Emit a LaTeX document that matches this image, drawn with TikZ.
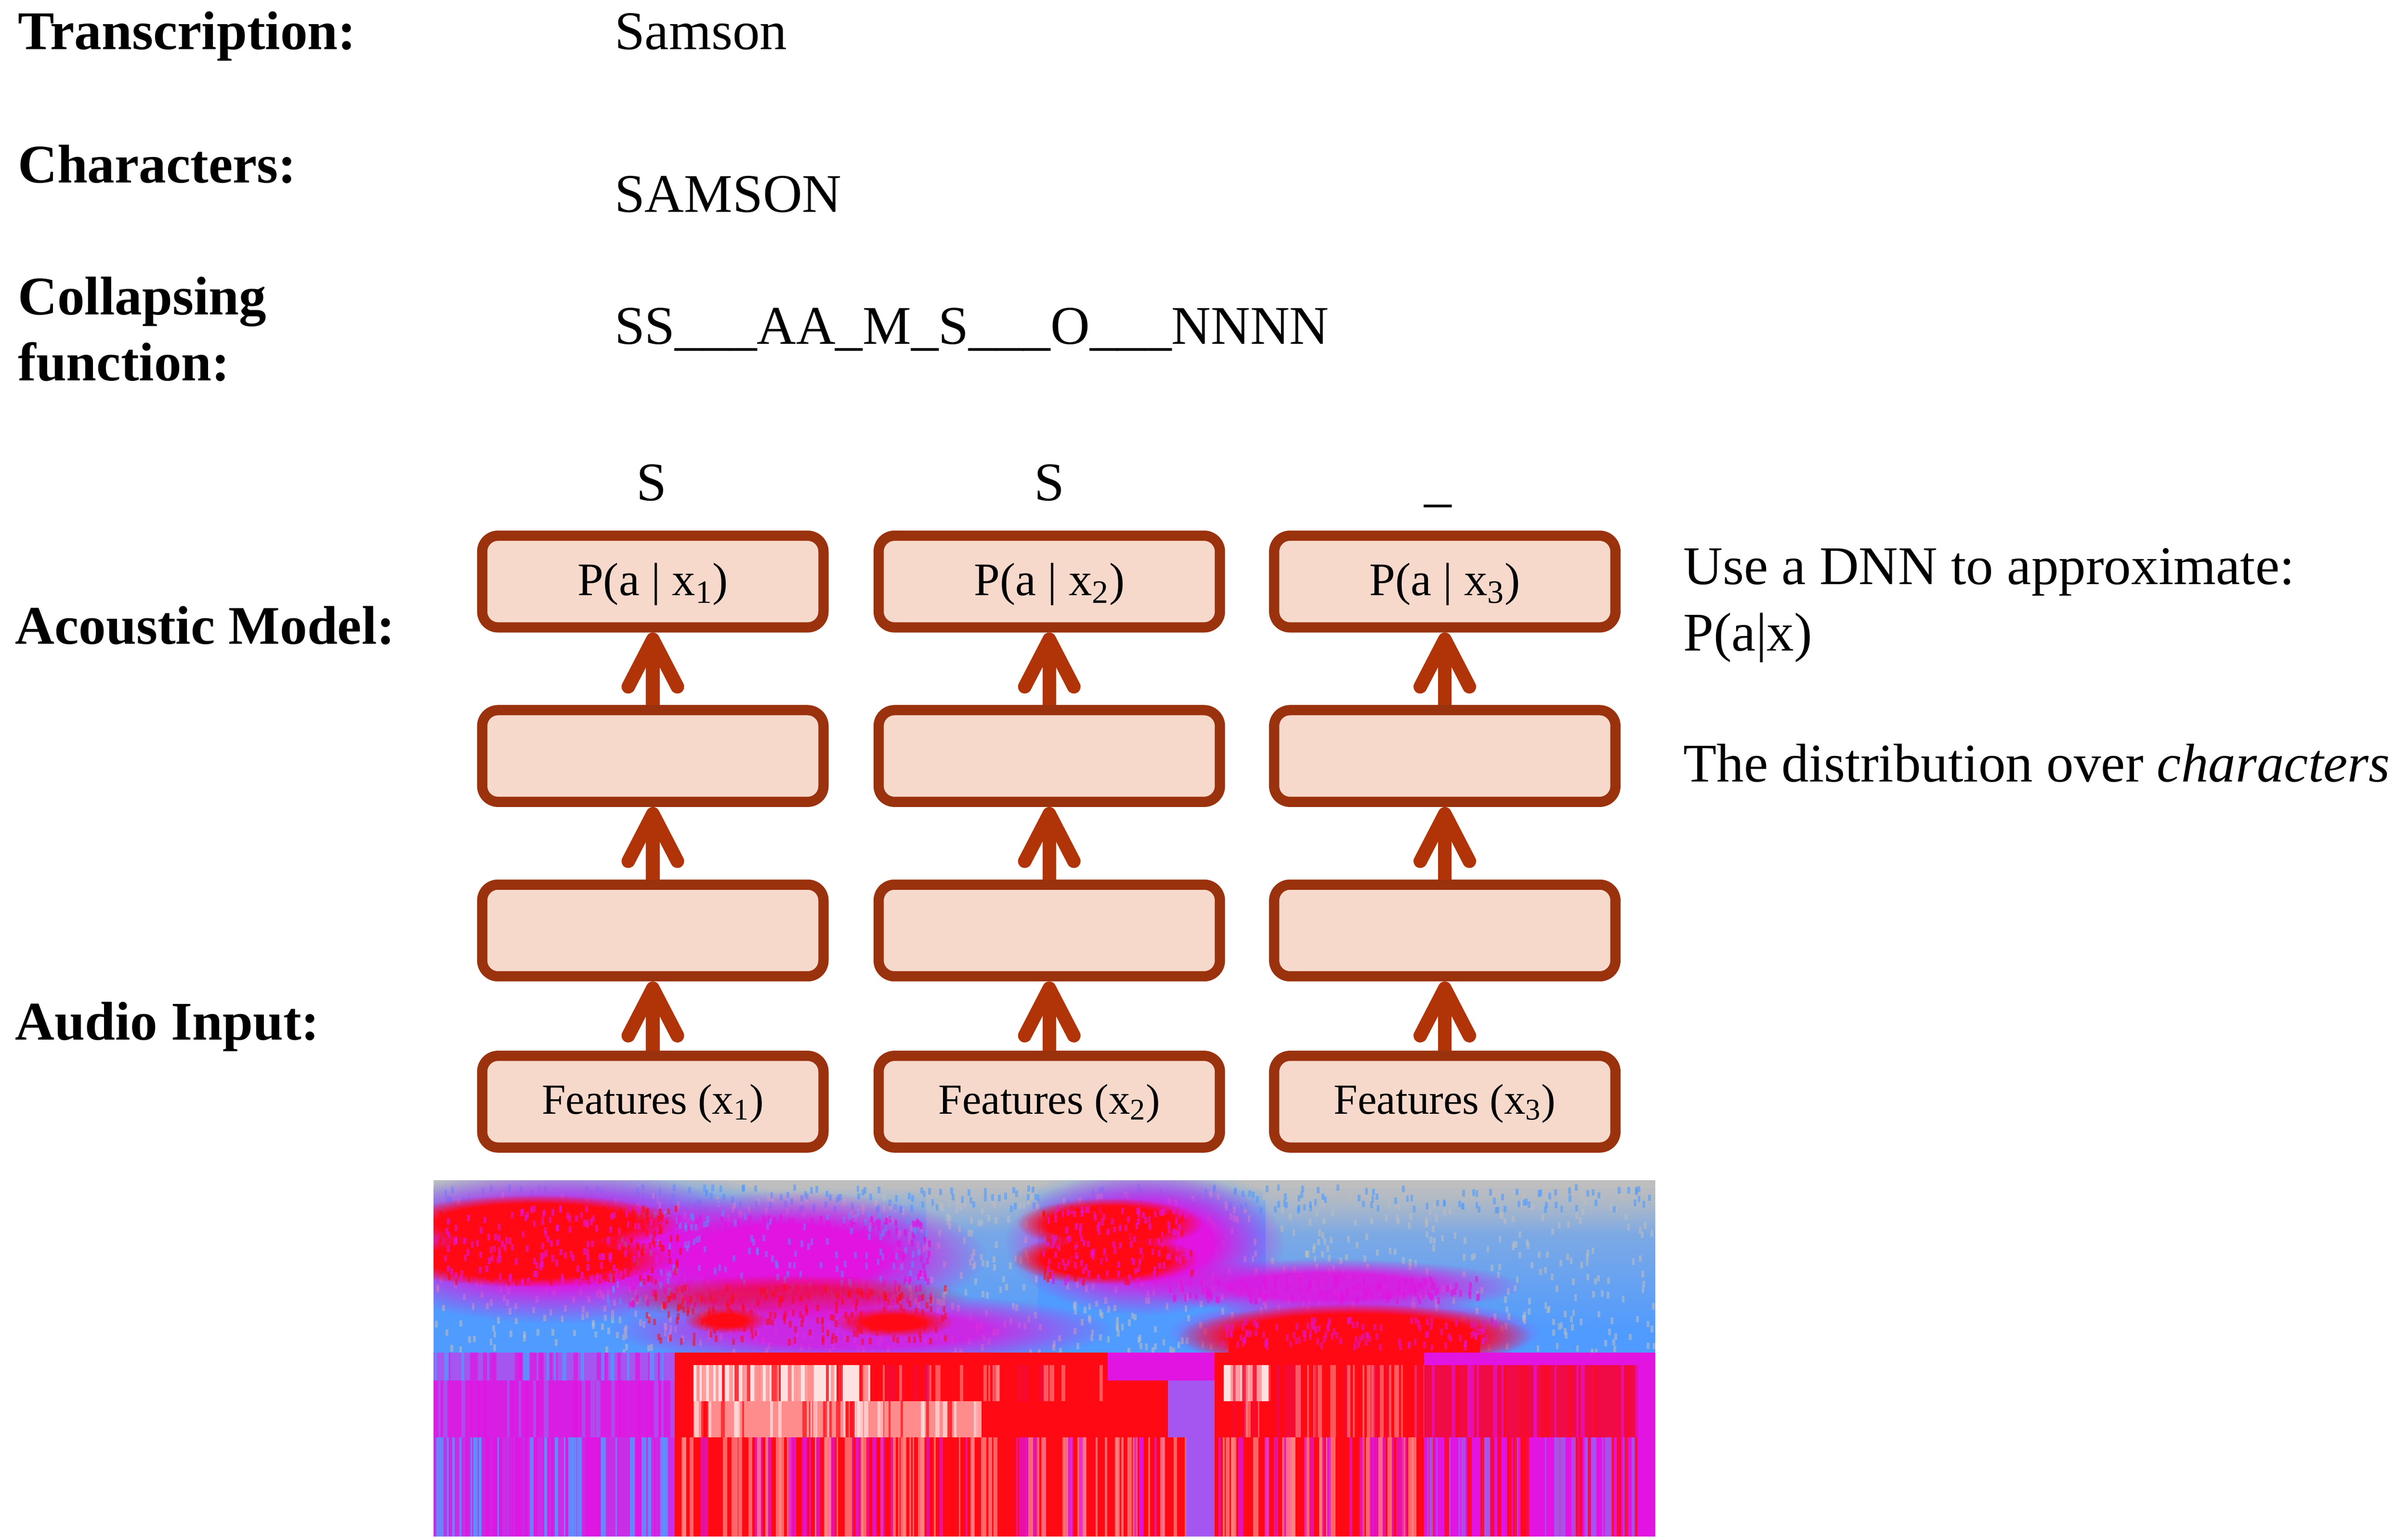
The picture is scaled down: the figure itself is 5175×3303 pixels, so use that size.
\documentclass[tikz,border=0pt]{standalone}
\usepackage{fontspec}
\setmainfont{Liberation Serif}
\usetikzlibrary{arrows.meta,fadings}
\definecolor{boxfill}{RGB}{247,217,204}
\definecolor{boxline}{RGB}{154,50,14}
\definecolor{arrowc}{RGB}{176,52,8}
\definecolor{sgray}{RGB}{190,190,190}
\definecolor{sblue}{RGB}{80,155,255}
\definecolor{smag}{RGB}{225,20,225}
\definecolor{spurp}{RGB}{165,85,240}
\definecolor{sred}{RGB}{255,10,20}
\definecolor{spink}{RGB}{255,140,140}
\definecolor{swhite}{RGB}{255,225,225}
\definecolor{scrim}{RGB}{240,10,70}
\pgfdeclareradialshading{blobsh}{\pgfpointorigin}{color(0pt)=(pgftransparent!0); color(12bp)=(pgftransparent!0); color(25bp)=(pgftransparent!100); color(50bp)=(pgftransparent!100)}
\pgfdeclarefading{softblob}{\pgfuseshading{blobsh}}
\pgfdeclareradialshading{coresh}{\pgfpointorigin}{color(0pt)=(pgftransparent!0); color(17bp)=(pgftransparent!0); color(25bp)=(pgftransparent!100); color(50bp)=(pgftransparent!100)}
\pgfdeclarefading{coreblob}{\pgfuseshading{coresh}}
\tikzfading[name=fadedown, top color=transparent!0, bottom color=transparent!100]
\newcommand{\bigfont}{\fontsize{33.3}{40}\selectfont}
\newcommand{\pfont}{\fontsize{28.5}{34}\selectfont}
\newcommand{\ffont}{\fontsize{26.2}{31}\selectfont}
\newcommand\sstripes[8]{%
  \foreach \i in {1,...,#5}{%
    \pgfmathsetmacro\spx{#1+#2*rnd}%
    \pgfmathsetmacro\spw{3+8*rnd}%
    \pgfmathsetmacro\spc{rnd}%
    \ifdim\spc pt<0.5pt \def\scol{#6}\else\def\scol{#7}\fi
    \fill[\scol, opacity=#8] (\spx,#3) rectangle ++(\spw,#4);
  }%
}
\newcommand\specks[7]{%
  \foreach \i in {1,...,#5}{%
    \pgfmathsetmacro\spx{#1+#2*rnd}%
    \pgfmathsetmacro\spy{#3+#4*rnd}%
    \fill[#6, opacity=#7] (\spx,\spy) rectangle ++(6,14);
  }%
}
\tikzset{
  lbl/.style={anchor=base west, inner sep=0pt, font=\bigfont\bfseries},
  txt/.style={anchor=base west, inner sep=0pt, font=\bigfont},
  outlbl/.style={anchor=base, inner sep=0pt, font=\bigfont},
  nnbox/.style={draw=boxline, fill=boxfill, line width=0.22cm, rounded corners=0.34cm, minimum width=7.33cm, minimum height=1.97cm, inner sep=0pt},
  pbox/.style={nnbox, font=\pfont, text height=0.80cm, text depth=0.20cm},
  fbox/.style={nnbox, font=\ffont, text height=0.72cm, text depth=0.20cm},
  uparrow/.style={draw=arrowc, line width=8.3pt, -{Straight Barb[length=29pt, width=30pt, round]}},
}
\begin{document}
\begin{tikzpicture}[x=0.01cm, y=-0.01cm]
\useasboundingbox (0,0) rectangle (5175,3303);
% left labels
\node[lbl] (ltrans) at (38,106) {Transcription:};
\node[lbl] (lchar) at (38,393) {Characters:};
\node[lbl] (lcoll1) at (38,676) {Collapsing};
\node[lbl] (lcoll2) at (38,818) {function:};
\node[lbl] (lam) at (32,1384) {Acoustic Model:};
\node[lbl] (lai) at (32,2235) {Audio Input:};
\node[txt] (vtrans) at (1320,106) {Samson};
\node[txt] (vchar) at (1320,456) {SAMSON};
\node[txt] (vcoll) at (1320,740) {SS\_\_\_AA\_M\_S\_\_\_O\_\_\_NNNN};
% right text
\node[txt] (r1) at (3617,1256) {Use a DNN to approximate:};
\node[txt] (r2) at (3617,1399) {P(a|x)};
\node[txt] (r3) at (3617,1680) {The distribution over \textit{characters}};
% outputs
\node[outlbl] (o1) at (1400,1076) {S};
\node[outlbl] (o2) at (2255,1076) {S};
\node[outlbl] (o3) at (3090,1076) {\_};
% network
\foreach \c/\x in {1/1403, 2/2255, 3/3105}{
  \node[fbox] (f\c) at (\x,2368) {Features (x\textsubscript{\c})};
  \node[nnbox] (h\c) at (\x,2000) {};
  \node[nnbox] (g\c) at (\x,1625) {};
  \node[pbox] (p\c) at (\x,1250) {P(a | x\textsubscript{\c})};
  \draw[uparrow] (f\c.north) -- (h\c.south);
  \draw[uparrow] (h\c.north) -- (g\c.south);
  \draw[uparrow] (g\c.north) -- (p\c.south);
}
% spectrogram
\begin{scope}
\clip (932,2537) rectangle (3557,3303);
\pgfmathsetseed{7}
\fill[sgray] (932,2537) rectangle (3557,3303);
\shade[top color=sgray, bottom color=sblue] (932,2550) rectangle (3557,2650);
\fill[sblue] (932,2650) rectangle (3557,2910);
\fill[sblue, path fading=softblob] (1250,2640) ellipse [x radius=520, y radius=130];
\fill[sblue, path fading=softblob] (2460,2640) ellipse [x radius=330, y radius=130];
\fill[sgray, opacity=0.6, path fading=fadedown] (2720,2560) rectangle (3557,2860);
\fill[sgray, opacity=0.5, path fading=fadedown] (1990,2560) rectangle (2230,2880);
\specks{932}{2625}{2560}{340}{1000}{sgray}{0.55}
\specks{932}{2625}{2545}{50}{250}{sblue}{0.6}
% word 1: magenta envelope, red cores
\fill[smag, path fading=softblob] (1200,2680) ellipse [x radius=470, y radius=165];
\fill[smag, path fading=softblob] (1690,2700) ellipse [x radius=430, y radius=140];
\specks{1350}{650}{2610}{190}{400}{smag}{0.7}
\specks{1300}{700}{2600}{210}{170}{sblue}{0.45}
\fill[sred, path fading=coreblob] (1150,2628) ellipse [x radius=310, y radius=60];
\fill[sred, path fading=coreblob] (1130,2706) ellipse [x radius=310, y radius=60];
\specks{940}{520}{2590}{160}{300}{sred}{0.6}
\specks{940}{520}{2590}{160}{170}{smag}{0.6}
\fill[scrim, opacity=0.8, path fading=softblob] (1700,2790) ellipse [x radius=380, y radius=50];
\fill[smag, opacity=0.85, path fading=softblob] (1850,2858) ellipse [x radius=540, y radius=80];
\specks{1380}{650}{2760}{120}{180}{sred}{0.55}
\fill[sred, path fading=softblob] (1560,2838) ellipse [x radius=90, y radius=28];
\fill[sred, path fading=softblob] (1920,2842) ellipse [x radius=130, y radius=32];
% word 2
\fill[smag, path fading=softblob] (2460,2672) ellipse [x radius=300, y radius=155];
\fill[sred, path fading=coreblob] (2385,2630) ellipse [x radius=200, y radius=55];
\fill[sred, path fading=coreblob] (2375,2706) ellipse [x radius=200, y radius=55];
\specks{2240}{320}{2590}{160}{140}{smag}{0.6}
\specks{2240}{320}{2590}{160}{90}{sred}{0.6}
\fill[smag, opacity=0.9, path fading=softblob] (2850,2765) ellipse [x radius=420, y radius=60];
\specks{2500}{680}{2740}{50}{140}{smag}{0.6}
\fill[smag, path fading=softblob] (2910,2865) ellipse [x radius=400, y radius=80];
\fill[sred, path fading=coreblob] (2910,2872) ellipse [x radius=380, y radius=70];
\fill[sred] (2640,2860) rectangle (3180,2907);
\specks{2620}{600}{2830}{60}{120}{smag}{0.5}
% lower band
\fill[spurp] (932,2907) rectangle (3557,3303);
\sstripes{932}{516}{2907}{60}{40}{sblue}{smag}{0.7}
\fill[smag!85!spurp] (932,2967) rectangle (1450,3089);
\sstripes{932}{516}{2967}{122}{30}{spurp}{smag}{0.8}
\fill[smag!60!spurp] (932,3089) rectangle (1450,3303);
\sstripes{932}{516}{3089}{214}{70}{sblue}{smag}{0.8}
\fill[sred] (1450,2907) rectangle (2380,3089);
\fill[sred] (2380,2967) rectangle (2510,3089);
\fill[smag] (2380,2907) rectangle (2610,2967);
\fill[spurp] (2510,2967) rectangle (2610,3089);
\fill[swhite] (1490,2934) rectangle (1870,3012);
\sstripes{1490}{380}{2934}{78}{40}{sred}{spink}{0.8}
\fill[spink] (1490,3012) rectangle (2100,3089);
\sstripes{1490}{610}{3012}{77}{50}{sred}{swhite}{0.7}
\sstripes{1870}{500}{2934}{78}{30}{spink}{scrim}{0.6}
\fill[sred] (1450,3089) rectangle (2549,3303);
\sstripes{1450}{1100}{3089}{214}{110}{spink}{smag}{0.7}
\fill[spurp] (2549,3089) rectangle (2610,3303);
\fill[sred] (2610,2907) rectangle (3060,3089);
\fill[swhite] (2630,2934) rectangle (2730,3012);
\sstripes{2630}{100}{2934}{78}{8}{sred}{spink}{0.8}
\sstripes{2610}{450}{2934}{155}{40}{spink}{scrim}{0.6}
\fill[sred] (2610,3089) rectangle (3060,3303);
\sstripes{2610}{450}{3089}{214}{50}{smag}{spink}{0.7}
\fill[smag] (3060,2907) rectangle (3557,2934);
\fill[scrim] (3060,2934) rectangle (3520,3089);
\fill[smag] (3520,2934) rectangle (3557,3303);
\fill[smag] (3060,3089) rectangle (3520,3303);
\sstripes{3060}{460}{3089}{214}{60}{sred}{spurp}{0.8}
\sstripes{3060}{460}{2934}{155}{30}{sred}{smag}{0.6}
\end{scope}
\end{tikzpicture}
\end{document}
